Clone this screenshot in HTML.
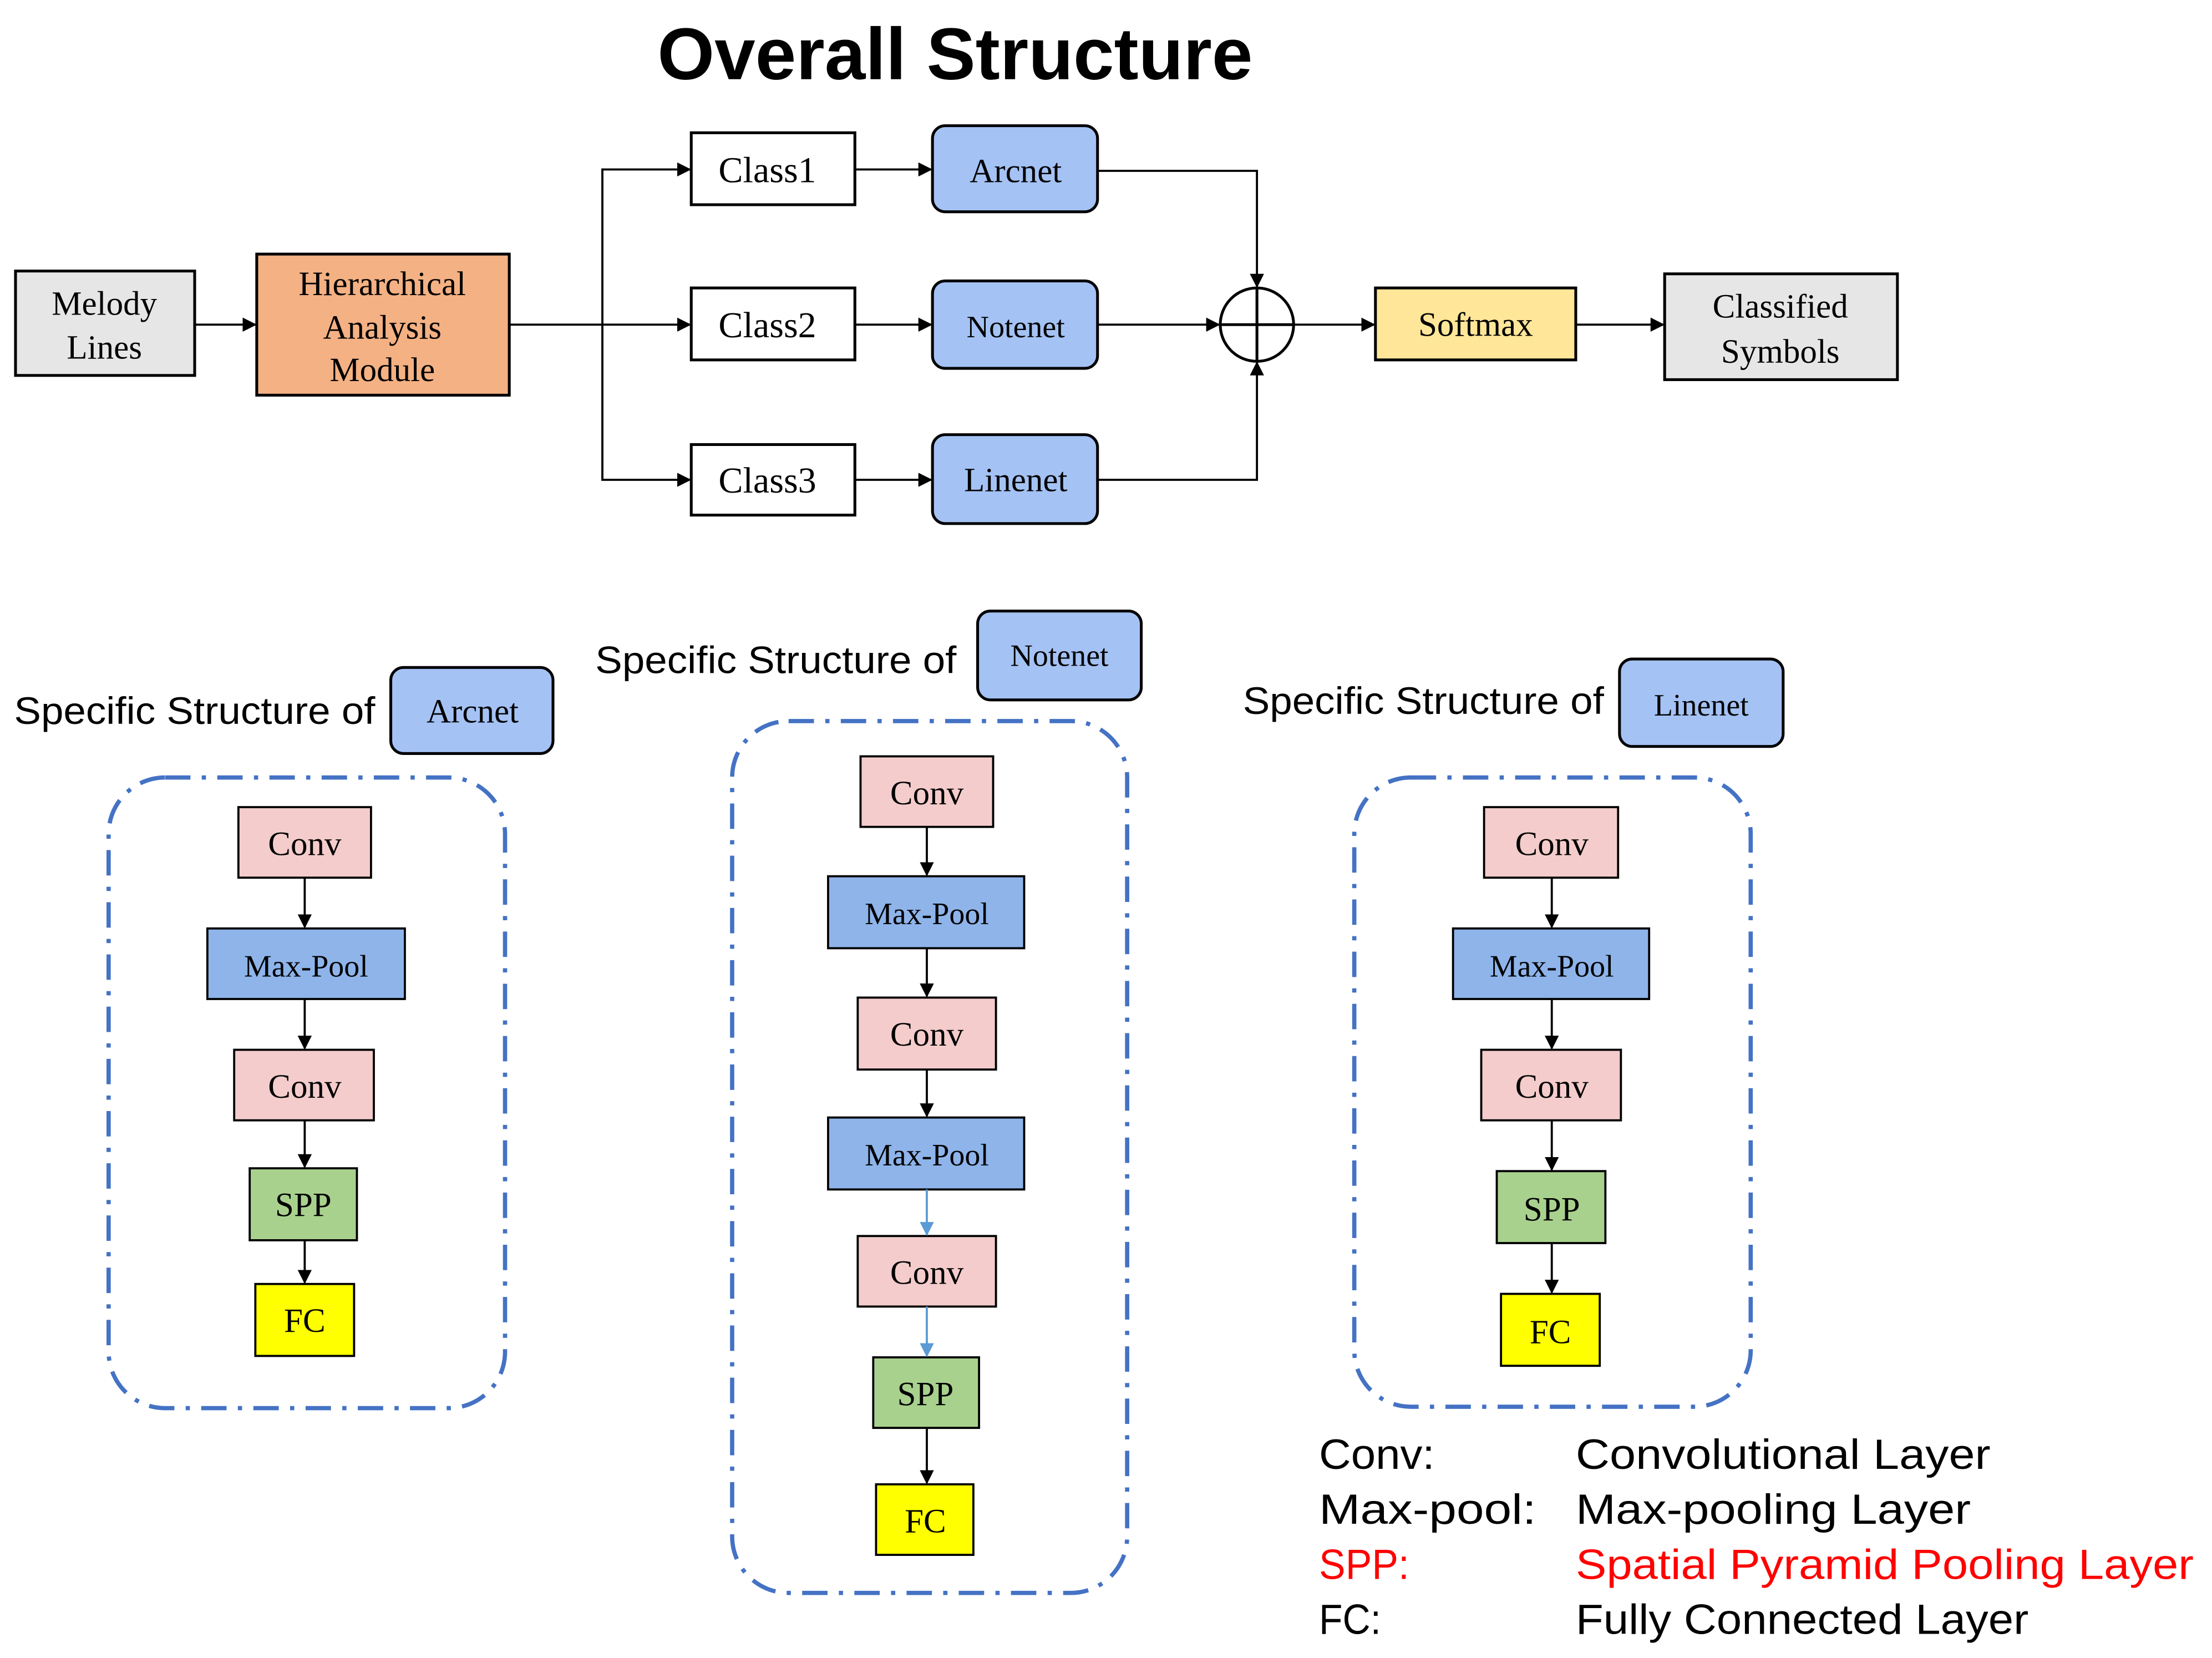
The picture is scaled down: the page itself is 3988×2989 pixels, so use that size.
<!DOCTYPE html>
<html><head><meta charset="utf-8"><style>
html,body{margin:0;padding:0;background:#fff;}
svg{display:block;}
.s{font-family:"Liberation Serif",serif;font-size:24px;fill:#000;text-anchor:middle;}
.h{font-family:"Liberation Sans","DejaVu Sans",sans-serif;font-size:27px;fill:#000;}
.l{font-family:"Liberation Sans","DejaVu Sans",sans-serif;font-size:30px;fill:#000;font-weight:500;}
</style></head><body>
<svg width="3988" height="2989" viewBox="0 0 1568 1175" xmlns="http://www.w3.org/2000/svg">
<defs><marker id="a" markerWidth="10" markerHeight="10" refX="9" refY="5" orient="auto" markerUnits="userSpaceOnUse"><path d="M0,0 L10,5 L0,10z" fill="#000"/></marker>
<marker id="b" markerWidth="10" markerHeight="10" refX="9" refY="5" orient="auto" markerUnits="userSpaceOnUse"><path d="M0,0 L10,5 L0,10z" fill="#5b9bd5"/></marker></defs>
<rect width="1568" height="1175" fill="#fff"/>
<text x="677" y="56" text-anchor="middle" style="font-family:'Liberation Sans',sans-serif;font-weight:bold;font-size:52px">Overall Structure</text>
<g stroke="#000" stroke-width="2">
<rect x="11" y="192" width="127" height="74" fill="#e6e6e6"/>
<rect x="182" y="180" width="179" height="100" fill="#f4b183"/>
<rect x="490" y="94" width="116" height="51" fill="#fff"/>
<rect x="490" y="204" width="116" height="51" fill="#fff"/>
<rect x="490" y="315" width="116" height="50" fill="#fff"/>
<rect x="661" y="89" width="117" height="61" rx="9" fill="#a4c2f4"/>
<rect x="661" y="199" width="117" height="62" rx="9" fill="#a4c2f4"/>
<rect x="661" y="308" width="117" height="63" rx="9" fill="#a4c2f4"/>
<rect x="975" y="204" width="142" height="51" fill="#ffe699"/>
<rect x="1180" y="194" width="165" height="75" fill="#e6e6e6"/>
<circle cx="891" cy="230" r="26" fill="#fff"/>
<line x1="865" y1="230" x2="917" y2="230"/><line x1="891" y1="204" x2="891" y2="256"/>
</g>
<g stroke="#000" stroke-width="1.5" fill="none">
<line x1="138" y1="230" x2="181" y2="230" marker-end="url(#a)"/>
<line x1="361" y1="230" x2="489" y2="230" marker-end="url(#a)"/>
<polyline points="427,230 427,120 489,120" marker-end="url(#a)"/>
<polyline points="427,230 427,340 489,340" marker-end="url(#a)"/>
<line x1="606" y1="120" x2="660" y2="120" marker-end="url(#a)"/>
<line x1="606" y1="230" x2="660" y2="230" marker-end="url(#a)"/>
<line x1="606" y1="340" x2="660" y2="340" marker-end="url(#a)"/>
<polyline points="778,121 891,121 891,203" marker-end="url(#a)"/>
<polyline points="778,340 891,340 891,257" marker-end="url(#a)"/>
<line x1="778" y1="230" x2="864" y2="230" marker-end="url(#a)"/>
<line x1="917" y1="230" x2="974" y2="230" marker-end="url(#a)"/>
<line x1="1117" y1="230" x2="1179" y2="230" marker-end="url(#a)"/>
</g>
<text class="s" x="74" y="223">Melody</text><text class="s" x="74" y="254">Lines</text>
<text class="s" x="271" y="209">Hierarchical</text><text class="s" x="271" y="240">Analysis</text><text class="s" x="271" y="270">Module</text>
<text class="s" x="544" y="129" style="font-size:26px">Class1</text><text class="s" x="544" y="239" style="font-size:26px">Class2</text><text class="s" x="544" y="349" style="font-size:26px">Class3</text>
<text class="s" x="720" y="129">Arcnet</text><text class="s" x="720" y="239" style="font-size:22px">Notenet</text><text class="s" x="720" y="348">Linenet</text>
<text class="s" x="1046" y="238">Softmax</text>
<text class="s" x="1262" y="225">Classified</text><text class="s" x="1262" y="257">Symbols</text>

<text class="h" x="10" y="513" textLength="256" lengthAdjust="spacingAndGlyphs">Specific Structure of</text>
<text class="h" x="422" y="477" textLength="256" lengthAdjust="spacingAndGlyphs">Specific Structure of</text>
<text class="h" x="881" y="506" textLength="256" lengthAdjust="spacingAndGlyphs">Specific Structure of</text>
<g stroke="#000" stroke-width="2">
<rect x="277" y="473" width="115" height="61" rx="9" fill="#a4c2f4"/>
<rect x="693" y="433" width="116" height="63" rx="9" fill="#a4c2f4"/>
<rect x="1148" y="467" width="116" height="62" rx="9" fill="#a4c2f4"/>
</g>
<text class="s" x="335" y="512">Arcnet</text><text class="s" x="751" y="472" style="font-size:22px">Notenet</text><text class="s" x="1206" y="507" style="font-size:22px">Linenet</text>
<g stroke="#4472c4" stroke-width="3" fill="none" stroke-dasharray="18,8,3,8">
<rect x="77" y="551" width="281" height="447" rx="40"/>
<rect x="519" y="511" width="280" height="618" rx="40"/>
<rect x="960" y="551" width="281" height="446" rx="40"/>
</g>
<g stroke="#000" stroke-width="1.5">
<rect x="169" y="572" width="94" height="50" fill="#f4cccc"/>
<rect x="147" y="658" width="140" height="50" fill="#8eb4ea"/>
<rect x="166" y="744" width="99" height="50" fill="#f4cccc"/>
<rect x="177" y="828" width="76" height="51" fill="#a9d18e"/>
<rect x="181" y="910" width="70" height="51" fill="#ffff00"/>
<rect x="610" y="536" width="94" height="50" fill="#f4cccc"/>
<rect x="587" y="621" width="139" height="51" fill="#8eb4ea"/>
<rect x="608" y="707" width="98" height="51" fill="#f4cccc"/>
<rect x="587" y="792" width="139" height="51" fill="#8eb4ea"/>
<rect x="608" y="876" width="98" height="50" fill="#f4cccc"/>
<rect x="619" y="962" width="75" height="50" fill="#a9d18e"/>
<rect x="621" y="1052" width="69" height="50" fill="#ffff00"/>
<rect x="1052" y="572" width="95" height="50" fill="#f4cccc"/>
<rect x="1030" y="658" width="139" height="50" fill="#8eb4ea"/>
<rect x="1050" y="744" width="99" height="50" fill="#f4cccc"/>
<rect x="1061" y="830" width="77" height="51" fill="#a9d18e"/>
<rect x="1064" y="917" width="70" height="51" fill="#ffff00"/>
</g>
<g stroke="#000" stroke-width="1.5">
<line x1="216" y1="622" x2="216" y2="657" marker-end="url(#a)"/>
<line x1="216" y1="708" x2="216" y2="743" marker-end="url(#a)"/>
<line x1="216" y1="794" x2="216" y2="827" marker-end="url(#a)"/>
<line x1="216" y1="879" x2="216" y2="909" marker-end="url(#a)"/>
<line x1="657" y1="586" x2="657" y2="620" marker-end="url(#a)"/>
<line x1="657" y1="672" x2="657" y2="706" marker-end="url(#a)"/>
<line x1="657" y1="758" x2="657" y2="791" marker-end="url(#a)"/>
<line x1="657" y1="843" x2="657" y2="875" stroke="#5b9bd5" marker-end="url(#b)"/>
<line x1="657" y1="926" x2="657" y2="961" stroke="#5b9bd5" marker-end="url(#b)"/>
<line x1="657" y1="1012" x2="657" y2="1051" marker-end="url(#a)"/>
<line x1="1100" y1="622" x2="1100" y2="657" marker-end="url(#a)"/>
<line x1="1100" y1="708" x2="1100" y2="743" marker-end="url(#a)"/>
<line x1="1100" y1="794" x2="1100" y2="829" marker-end="url(#a)"/>
<line x1="1100" y1="881" x2="1100" y2="916" marker-end="url(#a)"/>
</g>
<text class="s" x="216" y="606">Conv</text><text class="s" x="217" y="692" style="font-size:22px">Max-Pool</text><text class="s" x="216" y="778">Conv</text><text class="s" x="215" y="862">SPP</text><text class="s" x="216" y="944">FC</text>
<text class="s" x="657" y="570">Conv</text><text class="s" x="657" y="655" style="font-size:22px">Max-Pool</text><text class="s" x="657" y="741">Conv</text><text class="s" x="657" y="826" style="font-size:22px">Max-Pool</text><text class="s" x="657" y="910">Conv</text><text class="s" x="656" y="996">SPP</text><text class="s" x="656" y="1086">FC</text>
<text class="s" x="1100" y="606">Conv</text><text class="s" x="1100" y="692" style="font-size:22px">Max-Pool</text><text class="s" x="1100" y="778">Conv</text><text class="s" x="1100" y="865">SPP</text><text class="s" x="1099" y="952">FC</text>
<text class="l" x="935" y="1041" textLength="82" lengthAdjust="spacingAndGlyphs">Conv:</text><text class="l" x="1117" y="1041" textLength="294" lengthAdjust="spacingAndGlyphs">Convolutional Layer</text>
<text class="l" x="935" y="1080" textLength="154" lengthAdjust="spacingAndGlyphs">Max-pool:</text><text class="l" x="1117" y="1080" textLength="280" lengthAdjust="spacingAndGlyphs">Max-pooling Layer</text>
<text class="l" x="935" y="1119" style="fill:#f00" textLength="64" lengthAdjust="spacingAndGlyphs">SPP:</text><text class="l" x="1117" y="1119" style="fill:#f00" textLength="438" lengthAdjust="spacingAndGlyphs">Spatial Pyramid Pooling Layer</text>
<text class="l" x="935" y="1158" textLength="44" lengthAdjust="spacingAndGlyphs">FC:</text><text class="l" x="1117" y="1158" textLength="321" lengthAdjust="spacingAndGlyphs">Fully Connected Layer</text>
</svg>
</body></html>
